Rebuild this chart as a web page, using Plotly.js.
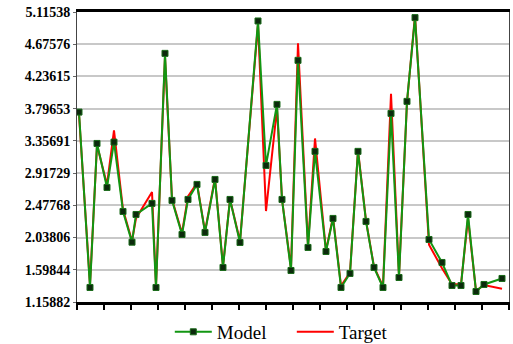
<!DOCTYPE html>
<html>
<head>
<meta charset="utf-8">
<script src="https://cdn.plot.ly/plotly-3.0.1.min.js"></script>
<style>
  html, body { margin: 0; padding: 0; background: #fff; }
  #chart { width: 513px; height: 344px; }
</style>
</head>
<body>
<div id="chart"></div>
<script>
// x positions (in tick-interval units) of the samples
const sampleX = [0.074, 0.481, 0.741, 1.111, 1.370, 1.704, 2.037, 2.185, 2.778, 2.926,
  3.259, 3.519, 3.889, 4.111, 4.444, 4.741, 5.111, 5.407, 5.667, 6.037,
  6.704, 7.000, 7.407, 7.593, 7.926, 8.185, 8.556, 8.815, 9.222, 9.481,
  9.778, 10.111, 10.407, 10.704, 11.000, 11.333, 11.630, 11.926, 12.222, 12.519,
  13.037, 13.519, 13.889, 14.222, 14.481, 14.778, 15.074, 15.741];

const modelValues = [3.750, 1.357, 3.322, 2.722, 3.340, 2.394, 1.975, 2.353, 2.504, 1.357,
  4.551, 2.545, 2.080, 2.558, 2.763, 2.108, 2.831, 1.630, 2.558, 1.971,
  4.993, 3.022, 3.855, 2.558, 1.589, 4.456, 1.903, 3.214, 1.848, 2.299,
  1.357, 1.548, 3.214, 2.258, 1.630, 1.357, 3.732, 1.493, 3.896, 5.039,
  2.012, 1.698, 1.384, 1.384, 2.353, 1.302, 1.398, 1.480];

const targetValues = [3.720, 1.400, 3.300, 2.760, 3.500, 2.420, 1.990, 2.300, 2.660, 1.380,
  4.500, 2.560, 2.100, 2.600, 2.780, 2.120, 2.850, 1.650, 2.560, 1.990,
  4.950, 2.400, 3.800, 2.560, 1.620, 4.690, 1.930, 3.390, 1.860, 2.320,
  1.380, 1.560, 3.230, 2.270, 1.640, 1.370, 4.000, 1.520, 3.880, 5.070,
  1.940, 1.620, 1.400, 1.400, 2.300, 1.310, 1.390, 1.340];

const yTickValues = [1.15882, 1.59844, 2.03806, 2.47768, 2.91729, 3.35691, 3.79653, 4.23615, 4.67576, 5.11538];
const yTickLabels = ["1.15882", "1.59844", "2.03806", "2.47768", "2.91729", "3.35691", "3.79653", "4.23615", "4.67576", "5.11538"];
const xTickValues = [0,1,2,3,4,5,6,7,8,9,10,11,12,13,14,15,16];

const traces = [
  {
    name: "Target",
    x: sampleX, y: targetValues,
    type: "scatter", mode: "lines",
    line: { color: "#ff0000", width: 2 },
    legendrank: 2
  },
  {
    name: "Model",
    x: sampleX, y: modelValues,
    type: "scatter", mode: "lines+markers",
    line: { color: "#129612", width: 2 },
    marker: { symbol: "square", size: 6, color: "#0c2a0c", line: { color: "#1a6a1a", width: 1 } },
    legendrank: 1
  }
];

const layout = {
  width: 513, height: 344,
  margin: { l: 77, r: 4, t: 12, b: 42 },
  paper_bgcolor: "#ffffff",
  plot_bgcolor: "#ffffff",
  font: { family: "Liberation Serif, DejaVu Serif", color: "#000" },
  showlegend: true,
  legend: {
    orientation: "h",
    xref: "container", yref: "container",
    x: 0.331, xanchor: "left",
    y: 0.035, yanchor: "middle",
    itemwidth: 37,
    entrywidth: 70,
    font: { family: "Liberation Serif, DejaVu Serif", size: 19, color: "#000" },
    bgcolor: "rgba(0,0,0,0)"
  },
  xaxis: {
    range: [0, 16],
    tickvals: xTickValues,
    showticklabels: false,
    ticks: "outside", ticklen: 5, tickwidth: 2, tickcolor: "#000",
    showgrid: false, zeroline: false,
    showline: true, linecolor: "#000", linewidth: 3, mirror: true
  },
  yaxis: {
    range: [1.15882, 5.11538],
    tickvals: yTickValues,
    ticktext: yTickLabels,
    ticks: "outside", ticklen: 3, tickwidth: 1, tickcolor: "#666",
    tickfont: { family: "Liberation Serif, DejaVu Serif", size: 14, color: "#000", weight: 700 },
    showgrid: true, gridcolor: "#c8c8c8", gridwidth: 2,
    zeroline: false,
    showline: true, linecolor: "#444", linewidth: 1, mirror: true
  }
};

Plotly.newPlot("chart", traces, layout, { displayModeBar: false, staticPlot: true });
</script>
</body>
</html>
